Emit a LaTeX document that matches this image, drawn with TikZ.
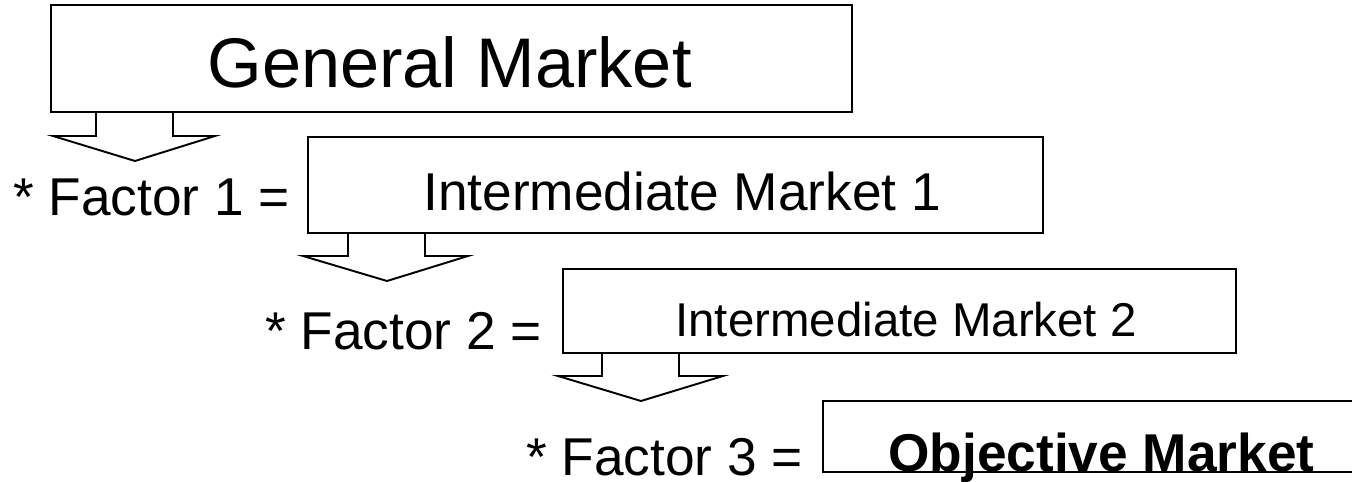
\documentclass[tikz,border=0pt]{standalone}
\usepackage{fontspec}
\setmainfont{Liberation Sans}
\usetikzlibrary{positioning}

\tikzset{
  mbox/.style={line width=1.5pt},
  barrow/.style={line width=1.1pt, line join=miter},
  bigtxt/.style={anchor=base west, inner sep=0pt, font=\fontsize{40}{46}\selectfont},
  midtxt/.style={anchor=base west, inner sep=0pt, font=\fontsize{30.3}{36}\selectfont},
  smalltxt/.style={anchor=base west, inner sep=0pt, font=\fontsize{27}{32}\selectfont}
}

\begin{document}
\begin{tikzpicture}[x=0.02cm, y=-0.02cm]
    \useasboundingbox (0,0) rectangle (1352,482);
    \clip (0,0) rectangle (1352,482);
    % boxes
    \draw[mbox] (51,5) rectangle (852,112);
    \draw[mbox] (308,137) rectangle (1043,233);
    \draw[mbox] (563,269) rectangle (1236,353);
    \draw[mbox] (823,401) rectangle (1370,472);
    % block arrows
    \draw[barrow] (96,113)--(96,136)--(53,136)--(135,161)--(215,136)--(173,136)--(173,113);
    \draw[barrow] (348,234)--(348,256)--(303,256)--(387,281)--(468,256)--(425,256)--(425,234);
    \draw[barrow] (602,354)--(602,376)--(558,376)--(641,401)--(723,376)--(679,376)--(679,354);
    % texts
    \node[bigtxt] (general) at (207,88) {General Market};
    \node[midtxt] (inter1) at (423,211) {Intermediate Market 1};
    \node[smalltxt] (inter2) at (675,337) {Intermediate Market 2};
    \node[midtxt] (objective) at (888,472) {\bfseries Objective Market};
    \node[midtxt] (factor1) at (13,216) {* Factor 1 =};
    \node[midtxt] (factor2) at (265,350) {* Factor 2 =};
    \node[midtxt] (factor3) at (526,476) {* Factor 3 =};
\end{tikzpicture}
\end{document}
